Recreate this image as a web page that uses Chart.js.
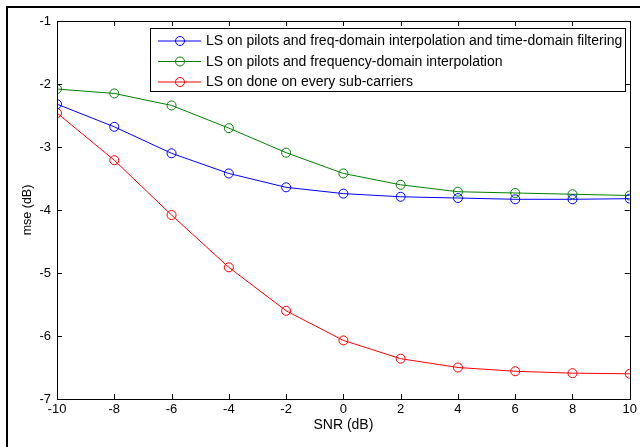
<!DOCTYPE html>
<html>
<head>
<meta charset="utf-8">
<script src="https://cdn.jsdelivr.net/npm/chart.js@4"></script>
<style>
  html, body { margin: 0; padding: 0; background: #fff; }
  #wrap { position: relative; width: 640px; height: 447px; }
</style>
</head>
<body>
<div id="wrap"><canvas id="mse"></canvas></div>
<script>
// SNR points (dB)
const snr = [-10, -8, -6, -4, -2, 0, 2, 4, 6, 8, 10];

// mse (dB)
const lsTimeFilter = [-2.32, -2.68, -3.10, -3.42, -3.64, -3.74, -3.79, -3.81, -3.83, -3.83, -3.82];
const lsFreqInterp = [-2.08, -2.15, -2.34, -2.70, -3.09, -3.42, -3.60, -3.71, -3.73, -3.75, -3.77];
const lsAllCarriers = [-2.46, -3.21, -4.08, -4.91, -5.60, -6.07, -6.36, -6.50, -6.56, -6.59, -6.60];

const seriesNames = [
   'LS on pilots and freq-domain interpolation and time-domain filtering',
   'LS on pilots and frequency-domain interpolation',
   'LS on done on every sub-carriers',
];

const xTicks = [-10, -8, -6, -4, -2, 0, 2, 4, 6, 8, 10];
const yTicks = [-7, -6, -5, -4, -3, -2, -1];

const FONT = 'Liberation Sans, Arial, Helvetica, sans-serif';

const toPoints = (vals) => snr.map((x, i) => ({ x: x, y: vals[i] }));

const makeSet = (label, vals, color) => ({
   label: label,
   data: toPoints(vals),
   borderColor: color,
   backgroundColor: color,
   borderWidth: 1,
   pointRadius: 4.5,
   pointHoverRadius: 4.5,
   pointBorderWidth: 1,
   pointBorderColor: color,
   pointBackgroundColor: 'rgba(0,0,0,0)',
   tension: 0,
});

// figure frame, axes box with inward ticks, legend box
const matlabLook = {
   id: 'matlabLook',
   afterDraw(chart) {
      const ctx = chart.ctx;
      const a = chart.chartArea;
      const xs = chart.scales.x;
      const ys = chart.scales.y;
      ctx.save();

      // outer figure border (top + left)
      ctx.strokeStyle = '#000';
      ctx.lineWidth = 2;
      ctx.beginPath();
      ctx.moveTo(7, 447);
      ctx.lineTo(7, 7);
      ctx.lineTo(640, 7);
      ctx.stroke();

      // axes box
      ctx.lineWidth = 1;
      ctx.strokeRect(Math.round(a.left) + 0.5, Math.round(a.top) + 0.5,
         Math.round(a.right - a.left), Math.round(a.bottom - a.top));

      // inward ticks
      const tl = 5;
      ctx.beginPath();
      xTicks.forEach((v) => {
         const px = Math.round(xs.getPixelForValue(v)) + 0.5;
         ctx.moveTo(px, a.bottom); ctx.lineTo(px, a.bottom - tl);
         ctx.moveTo(px, a.top); ctx.lineTo(px, a.top + tl);
      });
      yTicks.forEach((v) => {
         const py = Math.round(ys.getPixelForValue(v)) + 0.5;
         ctx.moveTo(a.left, py); ctx.lineTo(a.left + tl, py);
         ctx.moveTo(a.right, py); ctx.lineTo(a.right - tl, py);
      });
      ctx.stroke();

      // legend
      const lx = 150.5, ly = 28.5, lw = 475, lh = 63;
      ctx.fillStyle = '#fff';
      ctx.fillRect(lx, ly, lw, lh);
      ctx.strokeStyle = '#000';
      ctx.lineWidth = 1;
      ctx.strokeRect(lx, ly, lw, lh);
      ctx.font = '14px ' + FONT;
      ctx.textBaseline = 'middle';
      chart.data.datasets.forEach((ds, i) => {
         const cy = 41 + i * 20.5;
         ctx.strokeStyle = ds.borderColor;
         ctx.beginPath();
         ctx.moveTo(158, cy); ctx.lineTo(201, cy);
         ctx.stroke();
         ctx.beginPath();
         ctx.arc(180, cy, 4.5, 0, Math.PI * 2);
         ctx.stroke();
         ctx.fillStyle = '#000';
         ctx.fillText(ds.label, 206, cy + 0.5);
      });
      ctx.restore();
   },
};

new Chart(document.getElementById('mse'), {
   type: 'line',
   data: {
      datasets: [
         makeSet(seriesNames[0], lsTimeFilter, '#0000ff'),
         makeSet(seriesNames[1], lsFreqInterp, '#008000'),
         makeSet(seriesNames[2], lsAllCarriers, '#ff0000'),
      ],
   },
   options: {
      responsive: true,
      maintainAspectRatio: false,
      animation: false,
      events: [],
      layout: { padding: { top: 21, right: 8, left: 0, bottom: 0 } },
      plugins: {
         legend: { display: false },
         tooltip: { enabled: false },
      },
      scales: {
         x: {
            type: 'linear',
            min: -10,
            max: 10,
            afterFit: (s) => { s.height = 48; },
            afterBuildTicks: (s) => { s.ticks = xTicks.map((v) => ({ value: v })); },
            grid: { display: false, drawTicks: false },
            border: { display: false },
            ticks: {
               color: '#000',
               padding: 3,
               maxRotation: 0,
               font: { family: FONT, size: 13 },
            },
            title: {
               display: true,
               text: 'SNR (dB)',
               color: '#000',
               font: { family: FONT, size: 14 },
               padding: { top: 0, bottom: 13 },
            },
         },
         y: {
            type: 'linear',
            min: -7,
            max: -1,
            afterFit: (s) => { s.width = 57; },
            afterBuildTicks: (s) => { s.ticks = yTicks.map((v) => ({ value: v })); },
            grid: { display: false, drawTicks: false },
            border: { display: false },
            ticks: {
               color: '#000',
               padding: 6,
               font: { family: FONT, size: 13 },
            },
            title: {
               display: true,
               text: 'mse (dB)',
               color: '#000',
               font: { family: FONT, size: 12.5 },
               padding: { top: 20, bottom: 0 },
            },
         },
      },
   },
   plugins: [matlabLook],
});
</script>
</body>
</html>
